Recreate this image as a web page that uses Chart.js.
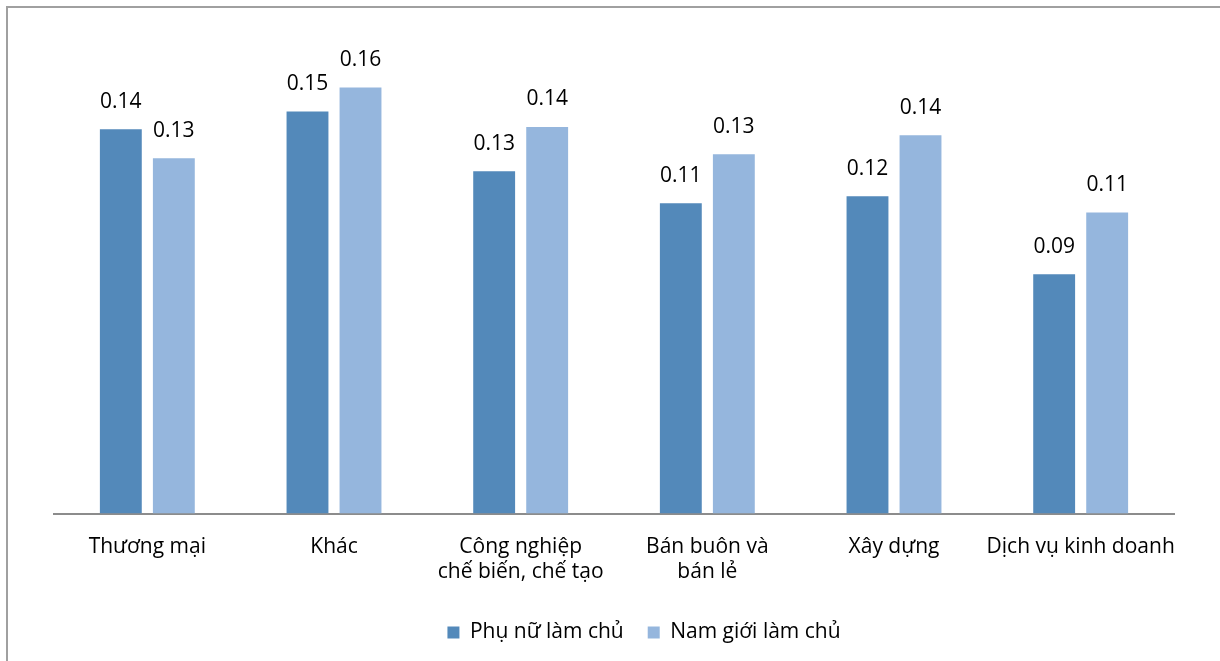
<!DOCTYPE html>
<html lang="vi">
<head>
<meta charset="UTF-8">
<title>Phụ nữ và nam giới làm chủ theo ngành</title>
<style>
  html, body { margin: 0; padding: 0; background: #fff; }
  .frame {
    position: absolute;
    left: 6px; top: 6px;
    width: 1220px; height: 661px;
    border-left: 2px solid #a0a0a0;
    border-top: 2px solid #a0a0a0;
  }
  .wrap { position: absolute; left: 0; top: 0; width: 1220px; height: 661px; }
</style>
</head>
<body>
<div class="frame"></div>
<div class="wrap"><canvas id="chart" width="1220" height="661"></canvas></div>
<script src="https://cdn.jsdelivr.net/npm/chart.js"></script>
<script>
const categories = [
  "Thương mại",
  "Khác",
  ["Công nghiệp", "chế biến, chế tạo"],
  ["Bán buôn và", "bán lẻ"],
  "Xây dựng",
  "Dịch vụ kinh doanh"
];
const womenOwned = [0.1415, 0.1480, 0.1260, 0.1142, 0.1168, 0.0881];
const menOwned   = [0.1308, 0.1568, 0.1423, 0.1323, 0.1393, 0.1108];

const FONT = "'Open Sans', 'Noto Sans', sans-serif";
const FONT_SIZE = 21;
const LEGEND_SHIFT = 30;

// value labels above each bar
const barLabels = {
  id: "barLabels",
  afterDatasetsDraw(chart) {
    const ctx = chart.ctx;
    ctx.save();
    ctx.font = FONT_SIZE + "px " + FONT;
    ctx.fillStyle = "#000";
    ctx.textAlign = "center";
    ctx.textBaseline = "bottom";
    chart.data.datasets.forEach((ds, i) => {
      chart.getDatasetMeta(i).data.forEach((bar, j) => {
        ctx.fillText(ds.data[j].toFixed(2), bar.x, bar.y - 17);
      });
    });
    ctx.restore();
  }
};

// nudge the legend a little right of centre
const legendShift = {
  id: "legendShift",
  afterLayout(chart) {
    const lg = chart.legend;
    if (!lg) return;
    lg.left += LEGEND_SHIFT;
    lg.right += LEGEND_SHIFT;
  }
};

new Chart(document.getElementById("chart"), {
  type: "bar",
  data: {
    labels: categories,
    datasets: [
      {
        label: "Phụ nữ làm chủ",
        data: womenOwned,
        backgroundColor: "#5389BA",
        categoryPercentage: 0.568,
        barPercentage: 0.79
      },
      {
        label: "Nam giới làm chủ",
        data: menOwned,
        backgroundColor: "#95B6DD",
        categoryPercentage: 0.568,
        barPercentage: 0.79
      }
    ]
  },
  options: {
    responsive: false,
    animation: false,
    layout: { padding: { left: 54, right: 46, top: 30, bottom: 8 } },
    plugins: {
      legend: {
        position: "bottom",
        labels: {
          boxWidth: 12,
          boxHeight: 12,
          padding: 24,
          color: "#000",
          font: { family: FONT, size: FONT_SIZE }
        }
      },
      tooltip: { enabled: false }
    },
    scales: {
      x: {
        grid: { display: false },
        border: { display: true, color: "#8c8c8c", width: 2 },
        ticks: {
          color: "#000",
          padding: 13,
          autoSkip: false,
          maxRotation: 0,
          font: { family: FONT, size: FONT_SIZE, lineHeight: 1.2 }
        }
      },
      y: {
        display: false,
        min: 0,
        max: 0.178
      }
    }
  },
  plugins: [barLabels, legendShift]
});
</script>
</body>
</html>
